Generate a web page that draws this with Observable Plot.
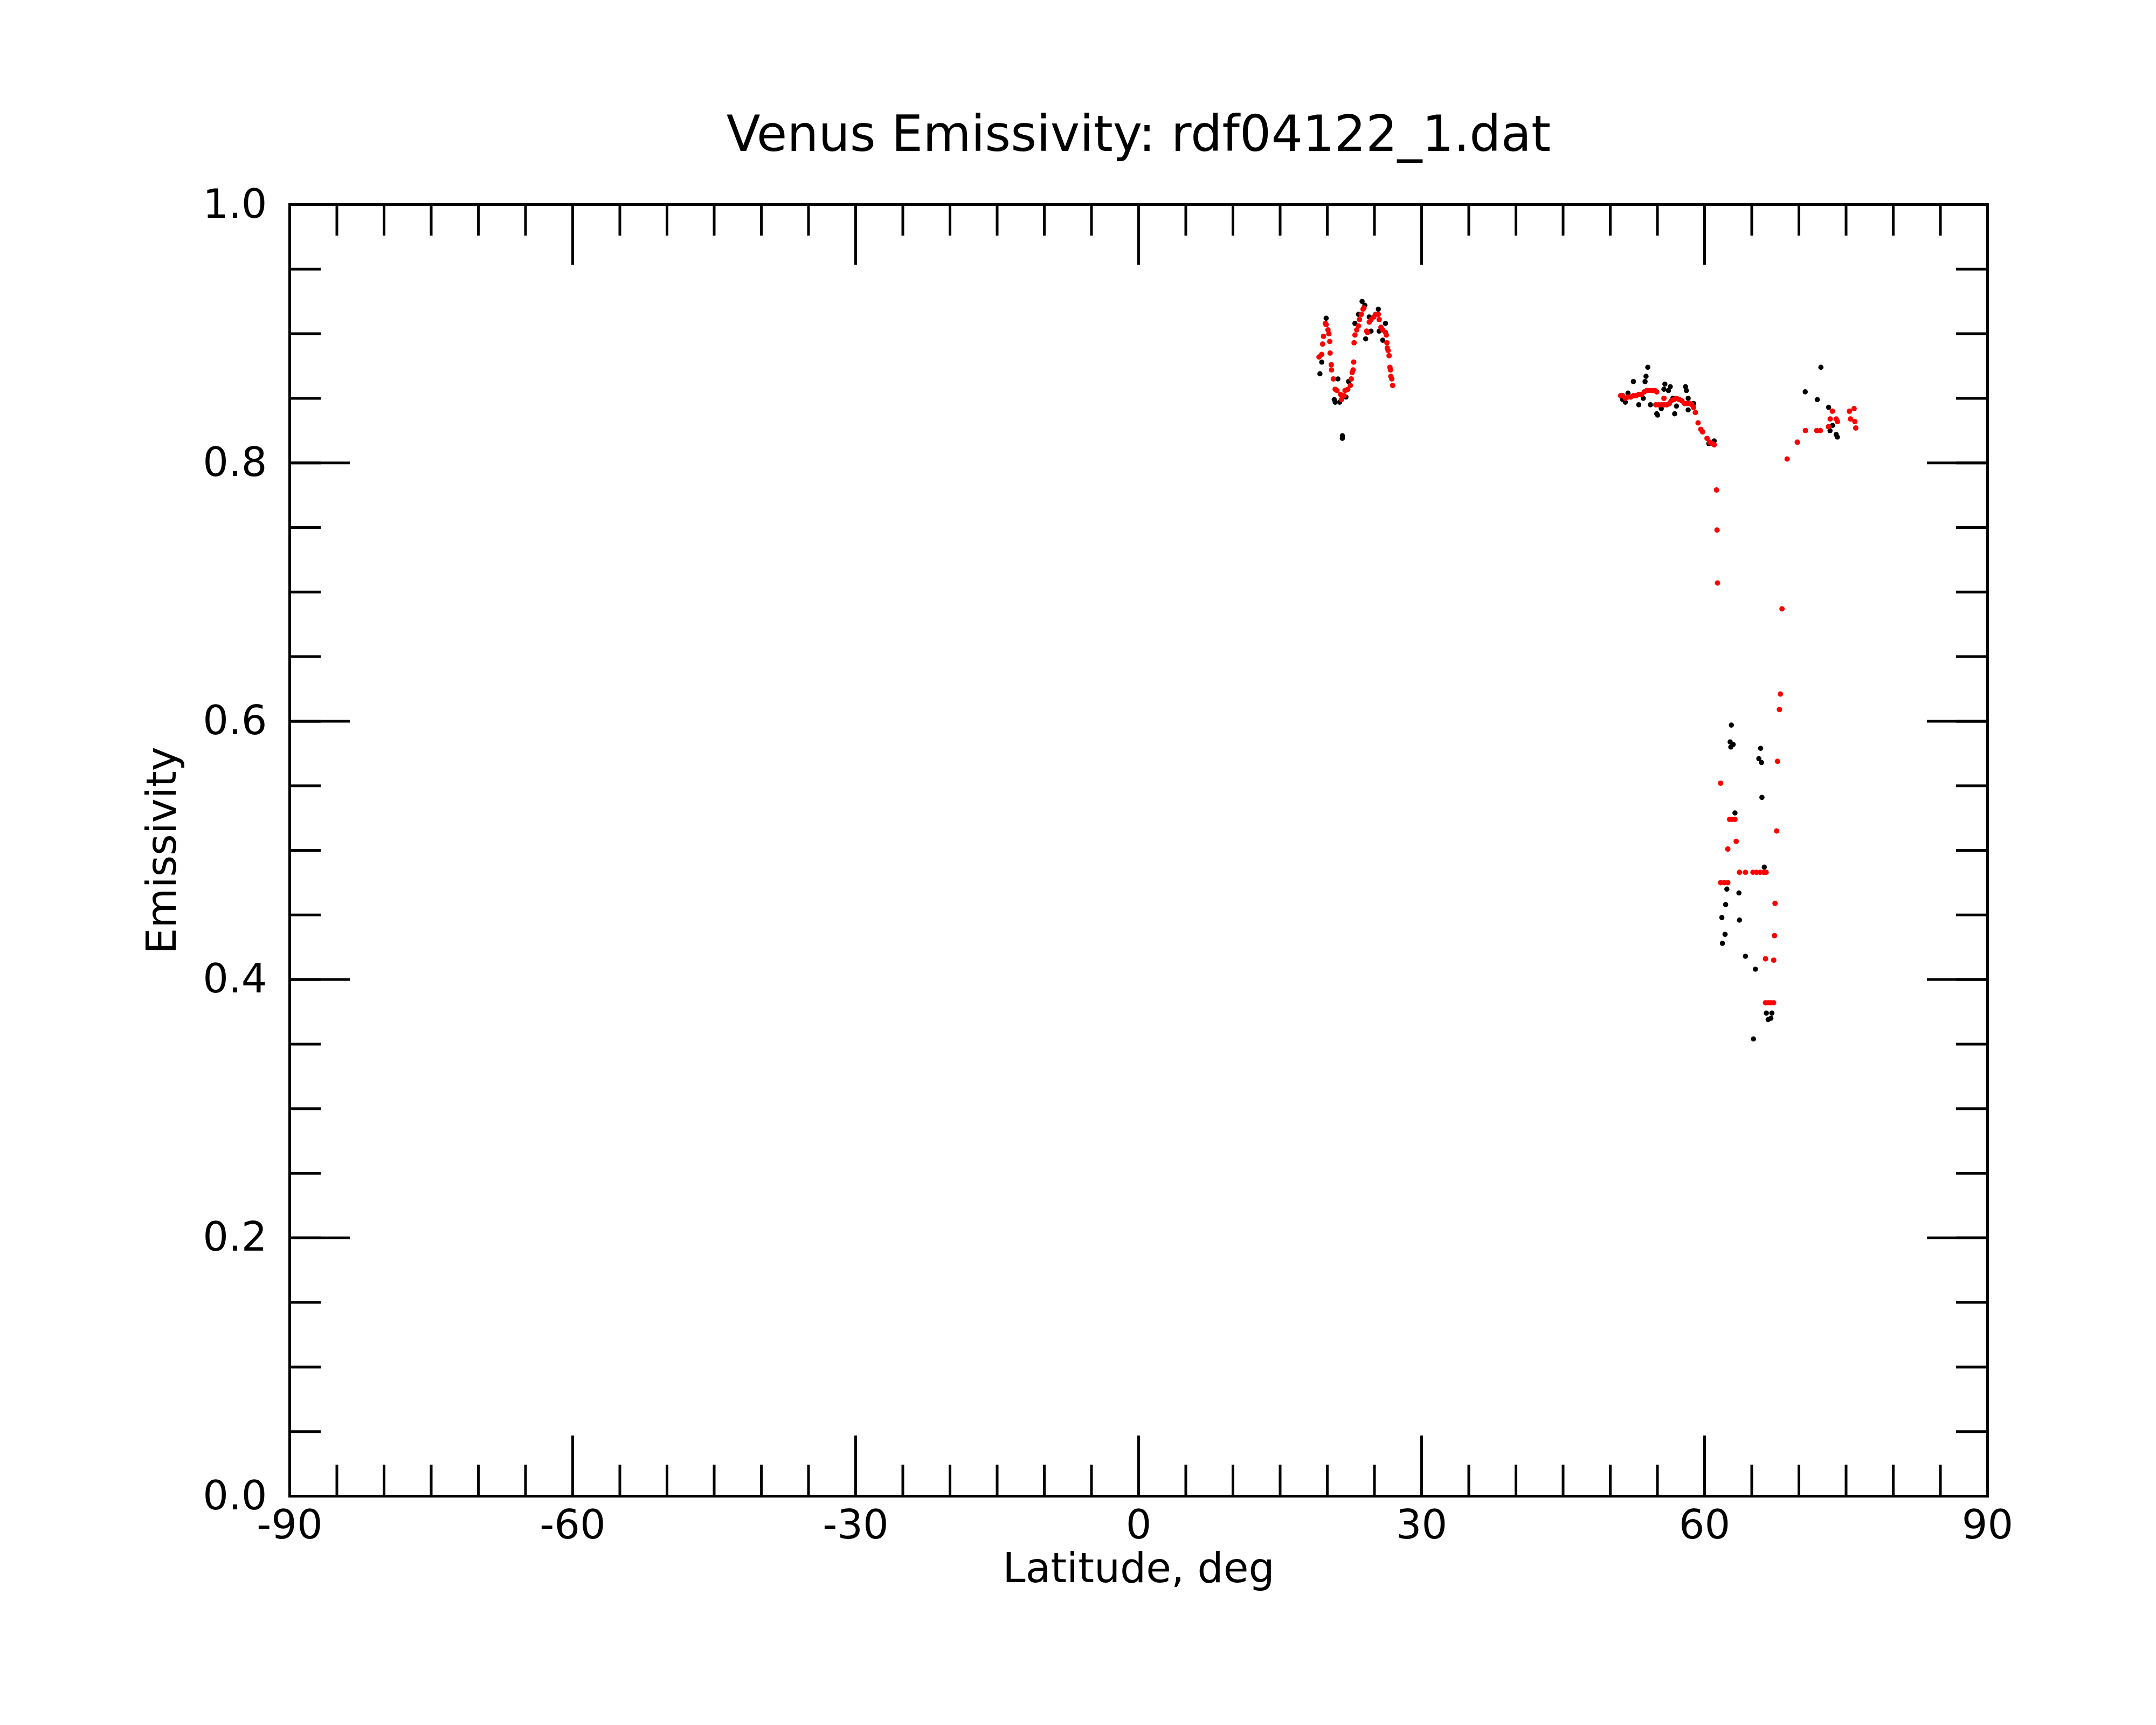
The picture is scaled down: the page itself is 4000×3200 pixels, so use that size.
<!DOCTYPE html>
<html>
<head>
<meta charset="utf-8">
<script src="https://cdn.jsdelivr.net/npm/d3@7"></script>
<script src="https://cdn.jsdelivr.net/npm/@observablehq/plot@0.6"></script>
<style>
  html, body { margin: 0; padding: 0; background: white; }
</style>
</head>
<body>
<div id="chart"></div>
<script>
const title = "Venus Emissivity: rdf04122_1.dat";
const xLabel = "Latitude, deg";
const yLabel = "Emissivity";

const xMajorTicks = [-90, -60, -30, 0, 30, 60, 90];
const xMinorTicks = d3.range(-90, 90.001, 5);
const yMajorTicks = [0, 0.2, 0.4, 0.6, 0.8, 1.0];
const yMinorTicks = d3.range(0, 1.0001, 0.05);

// Black series (raw emissivity)
const blackLat = [
  19.88, 19.41, 19.22, 21.12, 20.74, 20.84, 21.31, 21.98, 22.26, 21.60, 21.60,
  23.69, 23.98, 24.07, 23.31, 22.93, 25.41, 26.17, 25.88, 24.45, 25.50, 24.64,
  53.98, 53.79, 53.69, 52.45, 55.79, 56.36, 55.69, 56.17, 57.98, 58.07, 51.88,
  51.31, 51.60, 53.02, 53.50, 54.26, 55.41, 54.93, 55.02, 56.64, 57.02, 56.83,
  58.26, 58.83, 58.26, 60.45, 61.02,
  72.33, 70.67, 71.95, 73.15, 73.57, 73.30, 73.95, 74.08,
  62.84, 62.71, 63.03, 62.78, 65.94, 65.75, 66.04, 66.08, 63.22, 66.33, 62.36,
  63.64, 62.23, 61.83, 63.70, 62.17, 61.89, 64.33, 65.39, 65.18, 66.55, 67.13,
  66.74, 67.03
];
const blackEmis = [
  0.912, 0.878, 0.869, 0.865, 0.849, 0.847, 0.847, 0.851, 0.863, 0.821, 0.819,
  0.925, 0.922, 0.896, 0.915, 0.908, 0.919, 0.908, 0.895, 0.913, 0.902, 0.902,
  0.874, 0.867, 0.863, 0.863, 0.861, 0.859, 0.857, 0.856, 0.859, 0.856, 0.854,
  0.849, 0.847, 0.845, 0.850, 0.845, 0.842, 0.838, 0.837, 0.850, 0.844, 0.838,
  0.850, 0.846, 0.841, 0.815, 0.817,
  0.874, 0.855, 0.849, 0.843, 0.829, 0.825, 0.822, 0.820,
  0.597, 0.584, 0.582, 0.580, 0.579, 0.571, 0.568, 0.541, 0.529, 0.487, 0.470,
  0.467, 0.458, 0.448, 0.446, 0.435, 0.428, 0.418, 0.408, 0.354, 0.374, 0.374,
  0.369, 0.370
];

// Red series (smoothed emissivity)
const redLat = [
  19.12, 19.41, 19.50, 19.60, 19.88, 19.79, 20.07, 20.17, 20.26, 20.30, 20.42,
  20.45, 20.64, 20.84, 21.03, 21.41, 21.50, 21.79, 21.88, 22.17, 22.45, 22.55,
  22.64, 22.74, 22.80, 22.84, 22.93, 23.12, 23.31, 23.41, 23.60, 23.79, 23.88,
  24.17, 24.26, 24.45, 24.64, 24.93, 25.12, 25.41, 25.50, 25.69, 25.88, 26.17,
  26.26, 26.32, 26.36, 26.45, 26.55, 26.64, 26.70, 26.74, 26.84, 26.93,
  51.10, 51.31, 51.60, 51.88, 52.17, 52.45, 52.74, 53.02, 53.31, 53.60, 53.88,
  54.17, 54.45, 54.74, 54.93, 55.69, 54.83, 55.12, 55.41, 55.69, 55.98, 56.26,
  56.45, 56.74, 57.02, 57.31, 57.60, 57.88, 58.17, 58.45, 58.64, 58.83, 59.02,
  59.31, 59.60, 59.79, 60.26, 60.55, 60.83, 61.02,
  68.75, 69.83, 70.69, 71.89, 72.27, 73.13, 73.32, 73.55, 73.95, 74.08, 75.36,
  75.85, 75.47, 75.93, 76.02,
  61.26, 61.32, 61.37, 68.21, 68.04, 67.93, 67.73, 61.70, 62.65, 62.93, 63.22,
  67.64, 63.35, 62.46, 63.70, 64.33, 65.13, 65.51, 65.89, 66.27, 66.52, 61.70,
  62.08, 62.46, 67.47, 67.41, 66.46, 67.33, 66.46, 66.74, 67.03, 67.32
];
const redEmis = [
  0.882, 0.884, 0.892, 0.898, 0.907, 0.908, 0.903, 0.900, 0.894, 0.885, 0.876,
  0.872, 0.865, 0.857, 0.856, 0.853, 0.849, 0.852, 0.856, 0.857, 0.860, 0.865,
  0.870, 0.872, 0.878, 0.893, 0.899, 0.903, 0.906, 0.911, 0.915, 0.919, 0.920,
  0.902, 0.901, 0.909, 0.911, 0.913, 0.915, 0.915, 0.911, 0.905, 0.903, 0.901,
  0.899, 0.893, 0.889, 0.887, 0.883, 0.874, 0.872, 0.867, 0.865, 0.860,
  0.852, 0.852, 0.850, 0.851, 0.851, 0.852, 0.852, 0.853, 0.853, 0.855, 0.856,
  0.856, 0.856, 0.856, 0.855, 0.850, 0.845, 0.845, 0.845, 0.845, 0.845, 0.846,
  0.848, 0.849, 0.850, 0.849, 0.848, 0.846, 0.846, 0.846, 0.845, 0.843, 0.839,
  0.831, 0.826, 0.824, 0.819, 0.816, 0.815, 0.814,
  0.803, 0.816, 0.825, 0.825, 0.825, 0.828, 0.834, 0.840, 0.834, 0.832, 0.840,
  0.842, 0.834, 0.832, 0.827,
  0.779, 0.748, 0.707, 0.687, 0.621, 0.609, 0.569, 0.552, 0.524, 0.524, 0.524,
  0.515, 0.507, 0.501, 0.483, 0.483, 0.483, 0.483, 0.483, 0.483, 0.483, 0.475,
  0.475, 0.475, 0.459, 0.434, 0.416, 0.415, 0.382, 0.382, 0.382, 0.382
];

const blackData = blackLat.map((lat, i) => ({lat, emis: blackEmis[i]}));
const redData = redLat.map((lat, i) => ({lat, emis: redEmis[i]}));

const W = 4000, H = 3200;
const mL = 537, mR = 313, mT = 379, mB = 425;
const xDom = [-90, 90], yDom = [0, 1];
const plotW = W - mL - mR, plotH = H - mT - mB;
const xPerPx = (xDom[1] - xDom[0]) / plotW;
const yPerPx = (yDom[1] - yDom[0]) / plotH;
const majLen = 112, minLen = 58, lw = 5;

const chart = Plot.plot({
  width: W,
  height: H,
  marginLeft: mL, marginRight: mR, marginTop: mT, marginBottom: mB,
  x: {domain: xDom},
  y: {domain: yDom},
  style: {fontFamily: "DejaVu Sans", background: "white", color: "black"},
  marks: [
    // inward ticks, bottom and top
    Plot.ruleX(xMinorTicks, {x: d => d, y1: yDom[0], y2: yDom[0] + minLen * yPerPx, strokeWidth: lw, stroke: "black"}),
    Plot.ruleX(xMinorTicks, {x: d => d, y1: yDom[1], y2: yDom[1] - minLen * yPerPx, strokeWidth: lw, stroke: "black"}),
    Plot.ruleX(xMajorTicks, {x: d => d, y1: yDom[0], y2: yDom[0] + majLen * yPerPx, strokeWidth: lw, stroke: "black"}),
    Plot.ruleX(xMajorTicks, {x: d => d, y1: yDom[1], y2: yDom[1] - majLen * yPerPx, strokeWidth: lw, stroke: "black"}),
    // inward ticks, left and right
    Plot.ruleY(yMinorTicks, {y: d => d, x1: xDom[0], x2: xDom[0] + minLen * xPerPx, strokeWidth: lw, stroke: "black"}),
    Plot.ruleY(yMinorTicks, {y: d => d, x1: xDom[1], x2: xDom[1] - minLen * xPerPx, strokeWidth: lw, stroke: "black"}),
    Plot.ruleY(yMajorTicks, {y: d => d, x1: xDom[0], x2: xDom[0] + majLen * xPerPx, strokeWidth: lw, stroke: "black"}),
    Plot.ruleY(yMajorTicks, {y: d => d, x1: xDom[1], x2: xDom[1] - majLen * xPerPx, strokeWidth: lw, stroke: "black"}),
    Plot.axisX({ticks: xMajorTicks, tickSize: 0, tickPadding: 25, tickFormat: d => String(d), fontSize: 75, label: null}),
    Plot.axisY({ticks: yMajorTicks, tickSize: 0, tickPadding: 42, tickFormat: d => d.toFixed(1), fontSize: 75, label: null}),
    Plot.dot(blackData, {x: "lat", y: "emis", r: 4.8, fill: "black", stroke: "none"}),
    Plot.dot(redData, {x: "lat", y: "emis", r: 5, fill: "#ff0000", stroke: "none"}),
    Plot.frame({stroke: "black", strokeWidth: lw}),
    Plot.text([title], {frameAnchor: "top", dy: -129, fontSize: 92, fill: "black", textAnchor: "middle", lineAnchor: "middle"}),
    Plot.text([xLabel], {frameAnchor: "bottom", dy: 135, fontSize: 76, fill: "black", textAnchor: "middle", lineAnchor: "middle"}),
    Plot.text([yLabel], {frameAnchor: "left", dx: -236, rotate: -90, fontSize: 76, fill: "black", textAnchor: "middle", lineAnchor: "middle"})
  ]
});
document.getElementById("chart").appendChild(chart);
</script>
</body>
</html>
